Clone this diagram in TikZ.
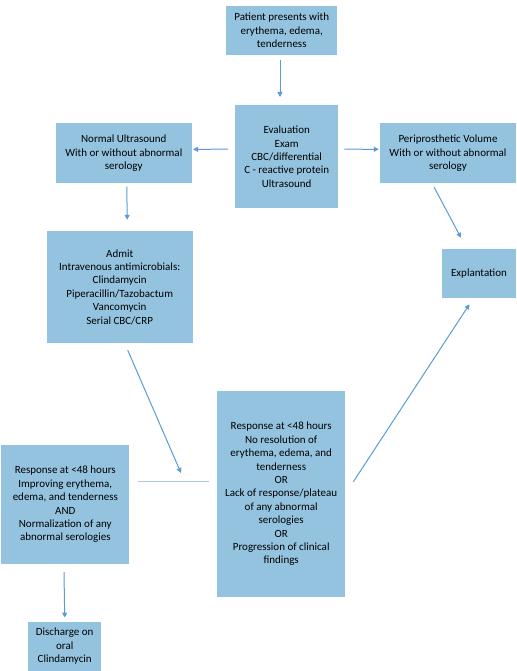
\documentclass[tikz,border=0pt]{standalone}
\usepackage{fontspec}
\setmainfont{Carlito}
\usetikzlibrary{calc,arrows.meta}
\definecolor{boxblue}{RGB}{148,195,224}
\definecolor{arrowblue}{RGB}{91,155,213}
\definecolor{lineblue}{RGB}{172,200,224}

\begin{document}
\begin{tikzpicture}[x=1pt, y=-1pt,
    box/.style={fill=boxblue, align=center, inner sep=0pt,
      font=\fontsize{11}{13.4}\selectfont},
    flow/.style={draw=arrowblue, line width=1pt, -{Triangle[length=5pt,width=5pt]}}]
  \useasboundingbox (0,0) rectangle (516,671);

  \node[box, minimum width=111pt, minimum height=49pt]  (pat)   at (281.7, 30.5) {Patient presents with\\erythema, edema,\\tenderness};
  \node[box, minimum width=103pt, minimum height=103pt] (eval)  at (286.7,156.7) {Evaluation\\Exam\\CBC/differential\\C - reactive protein\\Ultrasound};
  \node[box, minimum width=136pt, minimum height=60pt]  (norm)  at (123.8,153.3) {Normal Ultrasound\\With or without abnormal\\serology};
  \node[box, minimum width=136pt, minimum height=60pt]  (peri)  at (448.0,153.3) {Periprosthetic Volume\\With or without abnormal\\serology};
  \node[box, minimum width=74pt,  minimum height=49pt]  (expl)  at (479.0,273.5) {Explantation};
  \node[box, minimum width=146pt, minimum height=112pt] (admit) at (119.7,287.0) {Admit\\Intravenous antimicrobials:\\Clindamycin\\Piperacillin/Tazobactum\\Vancomycin\\Serial CBC/CRP};
  \node[box, minimum width=128pt, minimum height=119pt] (respL) at ( 65.3,504.5) {Response at <48 hours\\Improving erythema,\\edema, and tenderness\\AND\\Normalization of any\\abnormal serologies};
  \node[box, minimum width=128pt, minimum height=206pt] (respR) at (281.2,494.0) {Response at <48 hours\\No resolution of\\erythema, edema, and\\tenderness\\OR\\Lack of response/plateau\\of any abnormal\\serologies\\OR\\Progression of clinical\\findings};
  \node[box, minimum width=73pt,  minimum height=49pt]  (disch) at ( 64.7,646.3) {Discharge on\\oral\\Clindamycin};

  \coordinate (a1) at (181,473);

  \draw[flow] ([shift={(-1.7pt,-5pt)}]pat.south) -- ([shift={(-6.7pt,8pt)}]eval.north);
  \draw[flow] ([shift={(-7pt,7.5pt)}]eval.west) -- ([shift={(1pt,4pt)}]norm.east);
  \draw[flow] ([shift={(6pt,7.5pt)}]eval.east) -- ([shift={(-1pt,4pt)}]peri.west);
  \draw[flow] ([shift={(3pt,-3pt)}]norm.south) -- ([shift={(7.5pt,11pt)}]admit.north);
  \draw[flow] ([shift={(-14pt,-3.5pt)}]peri.south) -- ([shift={(-18pt,11pt)}]expl.north);
  \draw[flow] ([shift={(8pt,-7pt)}]admit.south) -- (a1);
  \draw[draw=lineblue, line width=0.8pt] ([shift={(8pt,23.5pt)}]respL.east) -- ([shift={(-8pt,13pt)}]respR.west);
  \draw[flow] ([shift={(8pt,12.3pt)}]respR.east) -- ([shift={(-9.5pt,-6pt)}]expl.south);
  \draw[flow] ([shift={(-1.3pt,-8pt)}]respL.south) -- ([yshift=4pt]disch.north);
\end{tikzpicture}
\end{document}
